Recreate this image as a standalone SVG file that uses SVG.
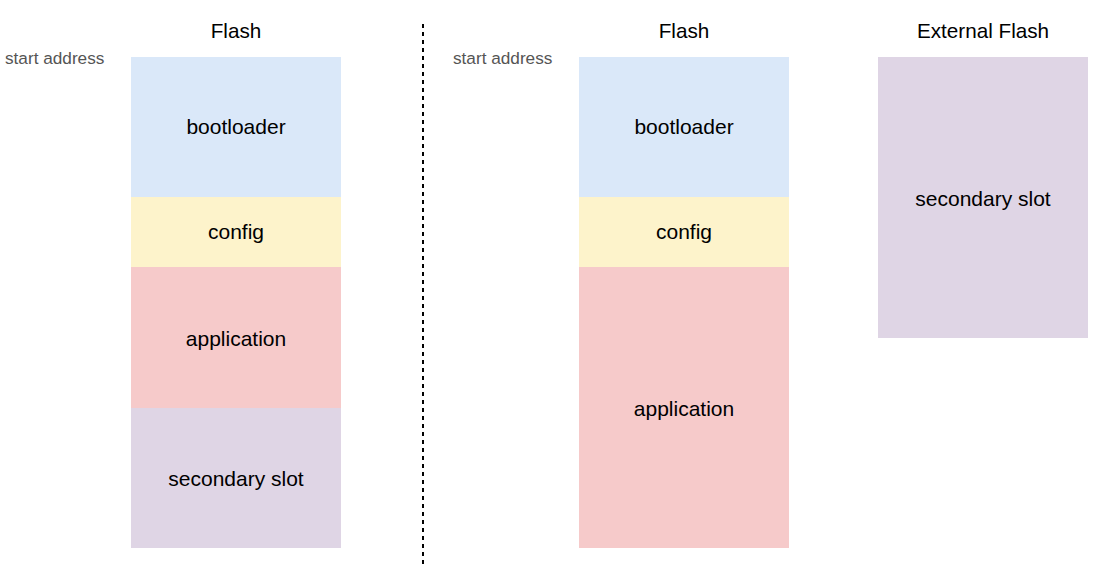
<svg xmlns="http://www.w3.org/2000/svg" width="1096" height="575" viewBox="0 0 1096 575">
<style>
text{font-family:"Liberation Sans",Arial,sans-serif;fill:#000}
.t{font-size:20.7px;text-anchor:middle}
.l{font-size:21px;text-anchor:middle;dominant-baseline:central}
.s{font-size:17.2px;fill:#555}
.b{fill:#dae8f9}.c{fill:#fdf3cb}.a{fill:#f6caca}.p{fill:#dfd5e5}
</style>
<rect width="1096" height="575" fill="#fff"/>
<g id="titles">
<text class="t" x="236" y="38">Flash</text>
<text class="t" x="684" y="38">Flash</text>
<text class="t" x="983" y="38">External Flash</text>
<text class="s" x="5" y="64">start address</text>
<text class="s" x="453" y="64">start address</text>
</g>
<g id="left-bootloader"><rect class="b" x="131" y="57" width="210" height="140"/><text class="l" x="236" y="126">bootloader</text></g>
<g id="left-config"><rect class="c" x="131" y="197" width="210" height="70"/><text class="l" x="236" y="231">config</text></g>
<g id="left-application"><rect class="a" x="131" y="267" width="210" height="141"/><text class="l" x="236" y="338">application</text></g>
<g id="left-secondary"><rect class="p" x="131" y="408" width="210" height="140"/><text class="l" x="236" y="478">secondary slot</text></g>
<g id="right-bootloader"><rect class="b" x="579" y="57" width="210" height="140"/><text class="l" x="684" y="126">bootloader</text></g>
<g id="right-config"><rect class="c" x="579" y="197" width="210" height="70"/><text class="l" x="684" y="231">config</text></g>
<g id="right-application"><rect class="a" x="579" y="267" width="210" height="281"/><text class="l" x="684" y="408">application</text></g>
<g id="external-secondary"><rect class="p" x="878" y="57" width="210" height="281"/><text class="l" x="983" y="198">secondary slot</text></g>
<g id="connectors"><line x1="423" y1="24" x2="423" y2="567" stroke="#000" stroke-width="2" stroke-dasharray="4 4"/></g>
</svg>
